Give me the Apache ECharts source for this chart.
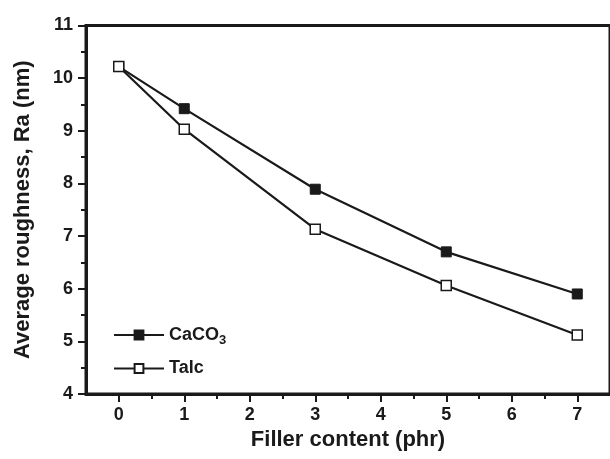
<!DOCTYPE html>
<html>
<head>
<meta charset="utf-8">
<script src="https://cdn.jsdelivr.net/npm/echarts@6/dist/echarts.min.js"></script>
<style>html,body{margin:0;padding:0;background:#fff}#c{width:610px;height:459px}</style>
</head>
<body>
<div id="c"></div>
<script>
const fillerContent = [0, 1, 3, 5, 7];
const caco3 = [10.22, 9.42, 7.89, 6.70, 5.90];
const talc = [10.22, 9.03, 7.13, 6.06, 5.12];
const xTicks = [0, 1, 2, 3, 4, 5, 6, 7];
const xMinorTicks = [0.5, 1.5, 2.5, 3.5, 4.5, 5.5, 6.5];
const seriesNames = ['CaCO3', 'Talc'];

const ink = '#1a1a1a';
const font = 'Liberation Sans, Arial, sans-serif';
const chart = echarts.init(document.getElementById('c'));
chart.setOption({
  animation: false,
  backgroundColor: '#fff',
  grid: { left: 86, right: -6.5, top: 25.5, bottom: 65, show: true, borderColor: ink, borderWidth: 3, backgroundColor: 'transparent' },
  legend: {
    orient: 'vertical', left: 113, top: 326, padding: 0, itemWidth: 50, itemHeight: 11, itemGap: 13,
    data: seriesNames,
    formatter: function (n) { return n === 'CaCO3' ? '{a|CaCO}{s|3}' : '{a|' + n + '}'; },
    textStyle: {
      color: ink, fontFamily: font, fontWeight: 'bold', fontSize: 18,
      rich: {
        a: { fontFamily: font, fontWeight: 'bold', fontSize: 18, color: ink },
        s: { fontFamily: font, fontWeight: 'bold', fontSize: 13, color: ink, padding: [10, 0, 0, 0] }
      }
    }
  },
  xAxis: [{
    type: 'value', min: -0.5, max: 7.5,
    name: 'Filler content (phr)', nameLocation: 'middle', nameGap: 32,
    nameTextStyle: { fontFamily: font, fontWeight: 'bold', fontSize: 22, color: ink },
    axisLine: { show: true, onZero: false, lineStyle: { color: ink, width: 3 } },
    axisTick: { show: true, length: 8, customValues: xTicks, lineStyle: { color: ink, width: 2 } },
    axisLabel: { customValues: xTicks, fontFamily: font, fontWeight: 'bold', fontSize: 18, color: ink, margin: 12 },
    splitLine: { show: false }
  }, {
    type: 'value', min: -0.5, max: 7.5, position: 'bottom', gridIndex: 0,
    axisLine: { show: false, onZero: false },
    axisTick: { show: true, length: 5, customValues: xMinorTicks, lineStyle: { color: ink, width: 2 } },
    axisLabel: { show: false },
    splitLine: { show: false }
  }],
  yAxis: {
    type: 'value', min: 4, max: 11, interval: 1,
    name: 'Average roughness, Ra (nm)', nameLocation: 'middle', nameGap: 52,
    nameTextStyle: { fontFamily: font, fontWeight: 'bold', fontSize: 22, color: ink },
    axisLine: { show: true, onZero: false, lineStyle: { color: ink, width: 3 } },
    axisTick: { show: true, length: 8, lineStyle: { color: ink, width: 2 } },
    minorTick: { show: true, splitNumber: 2, length: 5, lineStyle: { color: ink, width: 2 } },
    axisLabel: { fontFamily: font, fontWeight: 'bold', fontSize: 18, color: ink, margin: 13 },
    splitLine: { show: false }, minorSplitLine: { show: false }
  },
  series: [{
    name: seriesNames[0], type: 'line', xAxisIndex: 0,
    data: fillerContent.map((x, i) => [x, caco3[i]]),
    symbol: 'rect', symbolSize: 10,
    lineStyle: { color: ink, width: 2.2 },
    itemStyle: { color: ink, borderColor: ink, borderWidth: 1 }
  }, {
    name: seriesNames[1], type: 'line', xAxisIndex: 0,
    data: fillerContent.map((x, i) => [x, talc[i]]),
    symbol: 'rect', symbolSize: 10,
    lineStyle: { color: ink, width: 2.2 },
    itemStyle: { color: '#fff', borderColor: ink, borderWidth: 1.5 }
  }]
});
</script>
</body>
</html>
